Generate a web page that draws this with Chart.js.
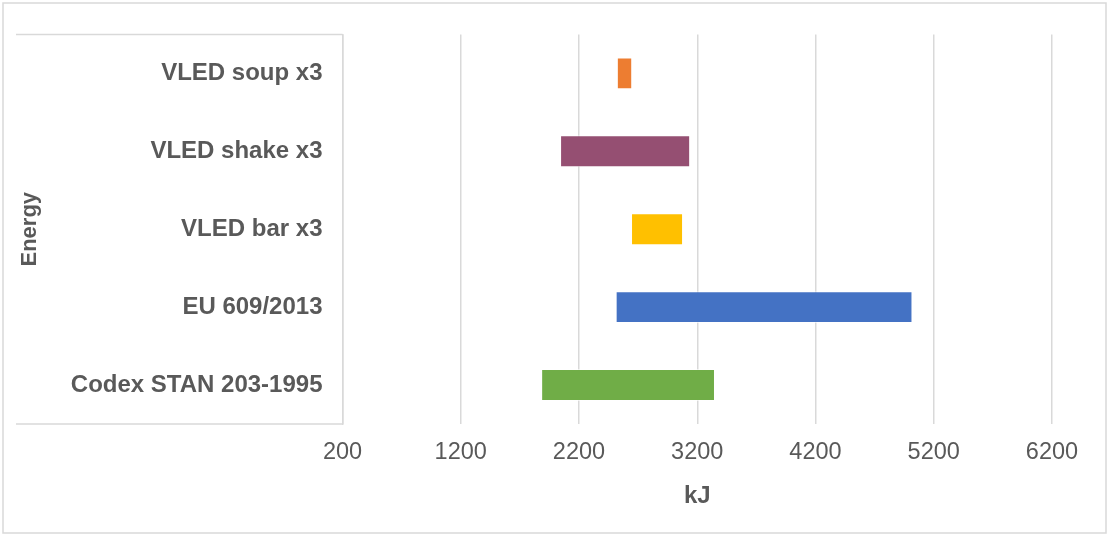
<!DOCTYPE html>
<html>
<head>
<meta charset="utf-8">
<script src="https://cdn.jsdelivr.net/npm/chart.js@4"></script>
<style>
  html, body { margin: 0; padding: 0; background: #fff; }
  #wrap { width: 1109px; height: 536px; position: relative; }
</style>
</head>
<body>
<div id="wrap"><canvas id="chart"></canvas></div>
<script>
// categories, top to bottom
const categories = ['VLED soup x3', 'VLED shake x3', 'VLED bar x3', 'EU 609/2013', 'Codex STAN 203-1995'];
// energy ranges in kJ (low, high)
const lowValues = [2520, 2040, 2640, 2510, 1880];
const highValues = [2650, 3140, 3080, 5020, 3350];
const barColors = ['#ED7D31', '#954F72', '#FFC000', '#4472C4', '#70AD47'];
const xTicks = [200, 1200, 2200, 3200, 4200, 5200, 6200];

const textColor = '#595959';
const lineColor = '#d9d9d9';
const fontFamily = '"Liberation Sans", Arial, sans-serif';

// outer frame + the category box lines on the left
const framePlugin = {
    id: 'frame',
    afterDraw: (chart) => {
        const ctx = chart.ctx;
        const area = chart.chartArea;
        ctx.save();
        ctx.strokeStyle = lineColor;
        ctx.lineWidth = 1.5;
        ctx.strokeRect(3, 3, chart.width - 6, chart.height - 6);
        ctx.beginPath();
        ctx.moveTo(16, area.top);
        ctx.lineTo(area.left, area.top);
        ctx.moveTo(16, area.bottom);
        ctx.lineTo(area.left, area.bottom);
        ctx.stroke();
        ctx.restore();
    }
};

new Chart(document.getElementById('chart'), {
    type: 'bar',
    data: {
        labels: categories,
        datasets: [{
            label: 'Energy',
            data: categories.map((c, i) => [lowValues[i], highValues[i]]),
            backgroundColor: barColors,
            borderColor: 'rgba(255,255,255,0.6)',
            borderWidth: 1,
            borderSkipped: false,
            categoryPercentage: 1,
            barPercentage: 0.41
        }]
    },
    options: {
        indexAxis: 'y',
        responsive: true,
        maintainAspectRatio: false,
        animation: false,
        layout: { padding: { left: 0, right: 57, top: 32, bottom: 0 } },
        plugins: {
            legend: { display: false },
            tooltip: { enabled: false }
        },
        scales: {
            x: {
                type: 'linear',
                min: xTicks[0],
                max: xTicks[xTicks.length - 1],
                afterBuildTicks: (scale) => { scale.ticks = xTicks.map(v => ({ value: v })); },
                afterFit: (scale) => { scale.height = 112; },
                grid: { color: lineColor, lineWidth: 1.5, drawTicks: false },
                border: { display: false },
                ticks: {
                    color: textColor,
                    padding: 14,
                    callback: (value) => String(value),
                    font: { family: fontFamily, size: 23.5 }
                },
                title: {
                    display: true,
                    text: 'kJ',
                    color: textColor,
                    padding: { top: 0, bottom: 25 },
                    font: { family: fontFamily, size: 24, weight: 'bold' }
                }
            },
            y: {
                afterFit: (scale) => { scale.width = 342.5; },
                grid: { display: false, drawTicks: false },
                border: { display: true, color: lineColor, width: 1.5 },
                ticks: {
                    color: textColor,
                    padding: 20,
                    font: { family: fontFamily, size: 24, weight: 'bold' }
                },
                title: {
                    display: true,
                    text: 'Energy',
                    color: textColor,
                    padding: { top: 17, bottom: 0 },
                    font: { family: fontFamily, size: 22, weight: 'bold' }
                }
            }
        }
    },
    plugins: [framePlugin]
});
</script>
</body>
</html>
